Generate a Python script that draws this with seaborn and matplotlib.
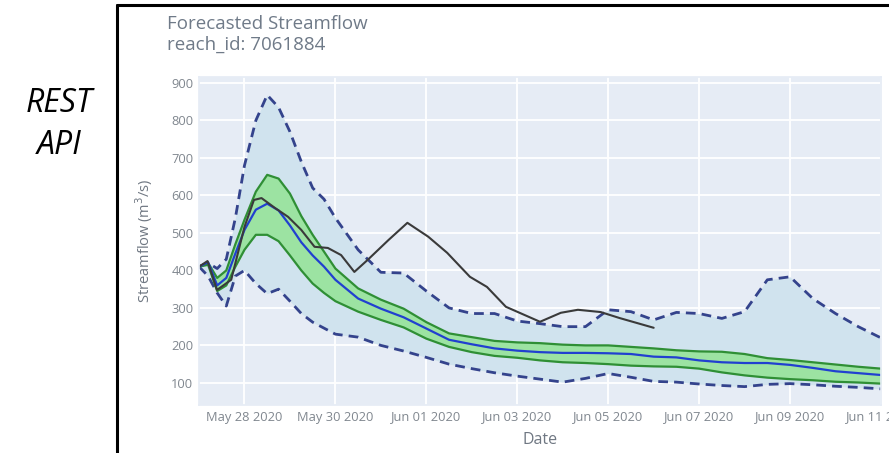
import matplotlib.pyplot as plt
import matplotlib.dates as mdates
import pandas as pd
import seaborn as sns
from matplotlib.lines import Line2D


# Forecast ensemble statistics (hours after 2020-05-27 00:00)
start = pd.Timestamp('2020-05-27 00:00')
hours = [0, 4.8, 9.6, 14.4, 19.2, 24, 30, 36, 42, 48, 54, 60, 66, 72, 84, 96,
         108, 120, 132, 144, 156, 168, 180, 192, 204, 216, 228, 240, 252, 264,
         276, 288, 300, 312, 324, 336, 348, 360]
flow_max = [410, 420, 405, 430, 540, 680, 800, 868, 835, 770, 690, 620, 590, 540,
            455, 395, 393, 345, 300, 285, 285, 265, 258, 250, 250, 295, 290, 268,
            288, 285, 272, 290, 375, 383, 325, 285, 250, 220]
flow_p75 = [410, 420, 380, 400, 470, 535, 610, 655, 645, 605, 545, 495, 450, 405,
            352, 322, 298, 262, 232, 222, 212, 208, 206, 202, 200, 200, 196, 192,
            187, 184, 183, 177, 166, 161, 155, 149, 143, 138]
flow_mean = [410, 422, 360, 380, 445, 508, 562, 578, 560, 520, 475, 440, 410, 375,
             325, 298, 275, 245, 215, 203, 192, 186, 182, 180, 180, 179, 177, 170,
             168, 160, 155, 153, 153, 148, 140, 131, 126, 121]
flow_p25 = [410, 415, 345, 360, 410, 455, 495, 495, 478, 440, 400, 365, 340, 318,
            290, 268, 248, 218, 196, 182, 172, 167, 160, 155, 153, 150, 146, 144,
            143, 138, 128, 120, 114, 110, 107, 103, 101, 98]
flow_min = [410, 385, 340, 305, 385, 400, 365, 338, 350, 318, 285, 262, 246, 230,
            222, 200, 185, 168, 150, 138, 127, 118, 110, 102, 112, 125, 115, 104,
            102, 97, 93, 90, 96, 98, 95, 91, 88, 84]

# High resolution member
hires_hours = [0, 4.5, 9.5, 17, 24, 29, 33, 40, 47, 54, 61, 68, 75, 82, 89, 100,
               110, 121, 131, 143, 152, 162, 180, 191, 200, 212, 222, 240]
hires_flow = [410, 425, 348, 375, 516, 588, 593, 567, 543, 508, 463, 460, 441, 396,
              428, 481, 527, 490, 447, 383, 356, 303, 263, 287, 295, 289, 273, 247]

ens = pd.DataFrame({
    'Date': start + pd.to_timedelta(hours, unit='h'),
    'max': flow_max, 'p75': flow_p75, 'mean': flow_mean,
    'p25': flow_p25, 'min': flow_min,
})
hires = pd.DataFrame({
    'Date': start + pd.to_timedelta(hires_hours, unit='h'),
    'flow': hires_flow,
})

sns.set_theme(style='darkgrid', rc={
    'axes.facecolor': '#E6ECF5',
    'grid.color': 'white',
    'grid.linewidth': 1.3,
    'axes.edgecolor': '#E6ECF5',
})
plt.rcParams['font.family'] = ['Open Sans', 'DejaVu Sans']

fig = plt.figure(figsize=(8.89, 4.53), dpi=100)
ax = fig.add_axes([199 / 889, 1 - 405 / 453, 682 / 889, 328 / 453])

ax.fill_between(ens['Date'], ens['min'], ens['max'], color='#D0E3EE', lw=0)
ax.fill_between(ens['Date'], ens['p25'], ens['p75'], color='#9CE3A2', lw=0)

dash_col = '#34438C'
sns.lineplot(data=ens, x='Date', y='max', ax=ax, color=dash_col, lw=2.0).lines[-1].set_dashes((3.5, 2.2))
sns.lineplot(data=ens, x='Date', y='min', ax=ax, color=dash_col, lw=2.0).lines[-1].set_dashes((3.5, 2.2))
sns.lineplot(data=ens, x='Date', y='p75', ax=ax, color='#2F8F35', lw=1.6)
sns.lineplot(data=ens, x='Date', y='p25', ax=ax, color='#2F8F35', lw=1.6)
sns.lineplot(data=ens, x='Date', y='mean', ax=ax, color='#2140D0', lw=1.6)
sns.lineplot(data=hires, x='Date', y='flow', ax=ax, color='#3A3A3A', lw=1.5)

ax.set_xlim(start, pd.Timestamp('2020-06-11 00:00'))
ax.set_ylim(41, 916)
ax.set_yticks(range(100, 1000, 100))
ax.xaxis.set_major_locator(mdates.DayLocator(bymonthday=[28, 30, 1, 3, 5, 7, 9, 11]))
ax.xaxis.set_major_formatter(mdates.DateFormatter('%b %d %Y'))

tick_col = '#80878f'
ax.tick_params(axis='both', colors=tick_col, labelsize=9.3, length=0, pad=4)
ax.set_xlabel('Date', color='#6f7782', fontsize=11.5, labelpad=6)
ax.set_ylabel('Streamflow (m$^3$/s)', color='#6f7782', fontsize=10.5, labelpad=12)

fig.text(167 / 889, 1 - 24 / 453, 'Forecasted Streamflow', color='#6f7a88',
         fontsize=13.5, va='center', ha='left')
fig.text(167 / 889, 1 - 45 / 453, 'reach_id: 7061884', color='#6f7a88',
         fontsize=13.5, va='center', ha='left')

fig.text(59 / 889, 1 - 104 / 453, 'REST', fontsize=23, style='italic',
         ha='center', va='center', color='black')
fig.text(59 / 889, 1 - 145 / 453, 'API', fontsize=23, style='italic',
         ha='center', va='center', color='black')

# black frame around the chart screenshot
fig.add_artist(Line2D([117 / 889, 117 / 889], [0, 1 - 5 / 453], color='black', lw=2.2))
fig.add_artist(Line2D([117 / 889, 1], [1 - 5 / 453, 1 - 5 / 453], color='black', lw=2.2))

fig.savefig('out.png', dpi=100)
